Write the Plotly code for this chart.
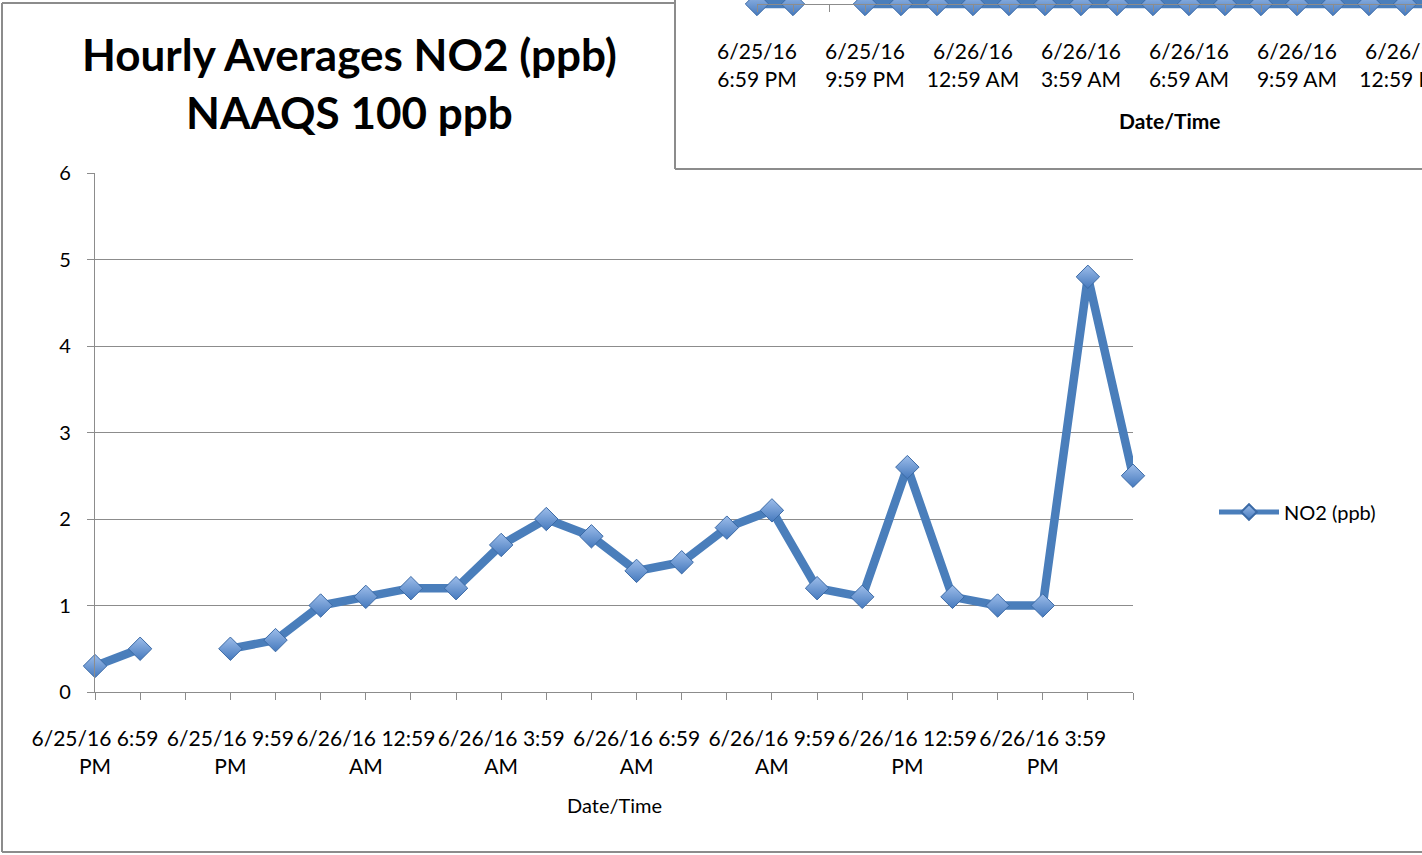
import plotly.graph_objects as go

# ---------------- data ----------------
timestamps = [
    "6/25/16 6:59 PM", "6/25/16 7:59 PM", "6/25/16 8:59 PM", "6/25/16 9:59 PM",
    "6/25/16 10:59 PM", "6/25/16 11:59 PM", "6/26/16 12:59 AM", "6/26/16 1:59 AM",
    "6/26/16 2:59 AM", "6/26/16 3:59 AM", "6/26/16 4:59 AM", "6/26/16 5:59 AM",
    "6/26/16 6:59 AM", "6/26/16 7:59 AM", "6/26/16 8:59 AM", "6/26/16 9:59 AM",
    "6/26/16 10:59 AM", "6/26/16 11:59 AM", "6/26/16 12:59 PM", "6/26/16 1:59 PM",
    "6/26/16 2:59 PM", "6/26/16 3:59 PM", "6/26/16 4:59 PM", "6/26/16 5:59 PM",
]
no2_ppb = [0.3, 0.5, None, 0.5, 0.6, 1.0, 1.1, 1.2, 1.2, 1.7, 2.0, 1.8,
           1.4, 1.5, 1.9, 2.1, 1.2, 1.1, 2.6, 1.1, 1.0, 1.0, 4.8, 2.5]
inset_values = [0, 0, None, 0, 0, 0, 0, 0, 0, 0, 0, 0,
                0, 0, 0, 0, 0, 0, 0, 0, 0, 0, 0, 0]
label_step = 3
main_title_1 = "Hourly Averages NO2 (ppb)"
main_title_2 = "NAAQS 100 ppb"
x_title = "Date/Time"
series_name = "NO2 (ppb)"

# ---------------- helpers ----------------
W, H = 1422, 855
FONT = "Lato, Calibri, Carlito, 'Open Sans', sans-serif"
GRAY = "#8c8c8c"
LINE_BLUE = "#4a7ebb"


def px(x):
    return x / W


def py(y):
    return 1 - y / H


def wrap_main(s):
    # Excel-like wrap: "6/25/16 6:59<br>PM"
    parts = s.split(" ")
    return " ".join(parts[:2]) + "<br>" + parts[2]


def wrap_inset(s):
    parts = s.split(" ")
    return parts[0] + "<br>" + " ".join(parts[1:])


idx = list(range(len(timestamps)))
main_ticktext = [wrap_main(t) if i % label_step == 0 else "" for i, t in enumerate(timestamps)]
inset_ticktext = [wrap_inset(t) if i % label_step == 0 else "" for i, t in enumerate(timestamps)]

marker_style = dict(
    symbol="diamond", size=18, color="#9dbdea",
    gradient=dict(type="vertical", color="#4579bd"),
    line=dict(color="#3b6aa6", width=1),
)

fig = go.Figure()

# main series
fig.add_trace(go.Scatter(
    x=idx, y=no2_ppb, mode="lines+markers", name=series_name,
    line=dict(color=LINE_BLUE, width=8.5), marker=marker_style,
    cliponaxis=False, connectgaps=False, xaxis="x", yaxis="y",
))

# inset (partially visible second chart)
fig.add_trace(go.Scatter(
    x=idx, y=inset_values, mode="lines+markers", name=series_name,
    line=dict(color=LINE_BLUE, width=8.5), marker=marker_style,
    cliponaxis=False, connectgaps=False, showlegend=False,
    xaxis="x2", yaxis="y2",
))

tick_font = dict(family=FONT, size=20, color="#000000")
xtick_font = dict(family=FONT, size=21, color="#000000")

fig.update_layout(
    width=W, height=H,
    margin=dict(l=0, r=0, t=0, b=0, autoexpand=False),
    paper_bgcolor="white", plot_bgcolor="rgba(0,0,0,0)",
    font=dict(family=FONT, color="#000000"),
    showlegend=True,
    legend=dict(
        x=px(1214), y=py(512), xanchor="left", yanchor="middle",
        font=dict(family=FONT, size=20, color="#000000"),
        itemwidth=60, itemsizing="constant",
        bgcolor="rgba(0,0,0,0)",
    ),
    xaxis=dict(
        domain=[px(95), px(1133)], range=[0, len(idx) - 1],
        tickmode="array", tickvals=idx, ticktext=main_ticktext,
        ticks="outside", ticklen=7, tickcolor=GRAY, tickwidth=1.3,
        showline=True, linecolor=GRAY, linewidth=1.3,
        showgrid=False, zeroline=False,
        tickfont=xtick_font, tickangle=0, ticklabelstandoff=21,
        anchor="y",
    ),
    yaxis=dict(
        domain=[py(692), py(173)], range=[0, 6], dtick=1, tick0=0,
        ticks="outside", ticklen=7, tickcolor=GRAY, tickwidth=1.3,
        showline=True, linecolor=GRAY, linewidth=1.3,
        showgrid=True, gridcolor=GRAY, gridwidth=1.3, zeroline=False,
        tickfont=tick_font, ticklabelstandoff=12,
        anchor="x",
    ),
    xaxis2=dict(
        domain=[px(757), 1], range=[0, (W - 757) / 36.0],
        tickmode="array", tickvals=idx, ticktext=inset_ticktext,
        ticks="outside", ticklen=7, tickcolor=GRAY, tickwidth=1.3,
        showline=True, linecolor=GRAY, linewidth=1.3,
        showgrid=False, zeroline=False,
        tickfont=xtick_font, tickangle=0, ticklabelstandoff=22,
        ticklabeloverflow="allow",
        anchor="free", position=py(4),
    ),
    yaxis2=dict(
        domain=[py(16), 1], range=[-3, 1],
        tickmode="array", tickvals=[0], ticktext=["0"],
        ticks="", showline=False, showgrid=False, zeroline=False,
        tickfont=tick_font, ticklabelstandoff=24,
        anchor="x2",
    ),
)

# titles
fig.add_annotation(text=f"<b>{main_title_1}</b>", x=px(349), y=py(54), xref="paper", yref="paper",
                   showarrow=False, xanchor="center", yanchor="middle",
                   font=dict(family=FONT, size=44, color="#000000"))
fig.add_annotation(text=f"<b>{main_title_2}</b>", x=px(349), y=py(112), xref="paper", yref="paper",
                   showarrow=False, xanchor="center", yanchor="middle",
                   font=dict(family=FONT, size=44, color="#000000"))
fig.add_annotation(text=x_title, x=px(614), y=py(805), xref="paper", yref="paper",
                   showarrow=False, xanchor="center", yanchor="middle",
                   font=dict(family=FONT, size=20, color="#000000"))
fig.add_annotation(text=f"<b>{x_title}</b>", x=px(1170), y=py(120), xref="paper", yref="paper",
                   showarrow=False, xanchor="center", yanchor="middle",
                   font=dict(family=FONT, size=21, color="#000000"))

# chart borders
border = dict(color=GRAY, width=2)
for x0, y0, x1, y1 in [
    (2, 3, 2, 852),        # main left
    (2, 3, 675, 3),        # main top
    (2, 852, W, 852),      # main bottom
    (675, 0, 675, 169),    # inset left
    (675, 169, W, 169),    # inset bottom
]:
    fig.add_shape(type="line", xref="paper", yref="paper",
                  x0=px(x0), y0=py(y0), x1=px(x1), y1=py(y1), line=border)

fig.write_html(
    "out.html",
    config={"displayModeBar": False},
    post_script="document.body.style.margin='0px'; document.body.style.overflow='hidden';",
)
